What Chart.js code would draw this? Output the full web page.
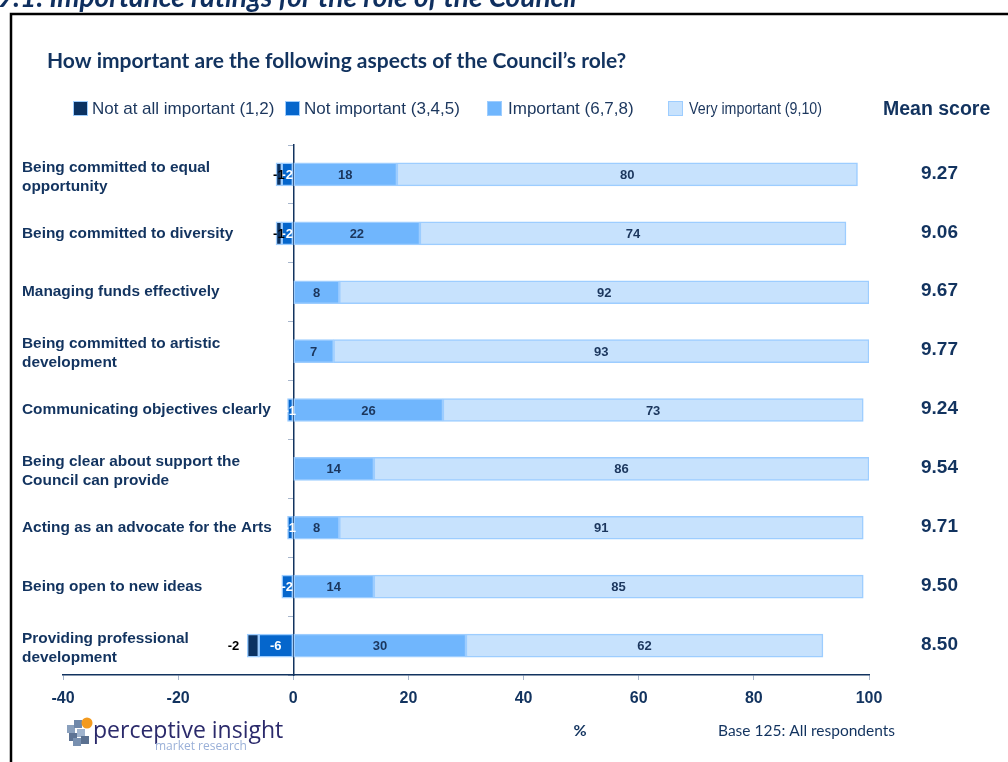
<!DOCTYPE html>
<html>
<head>
<meta charset="utf-8">
<title>Importance ratings for the role of the Council</title>
<script src="https://cdn.jsdelivr.net/npm/chart.js@4.4.1/dist/chart.umd.min.js"></script>
<style>
  html, body { margin: 0; padding: 0; background: #fff; }
  body { width: 1008px; height: 762px; overflow: hidden; position: relative; }
  #chart { position: absolute; left: 0; top: 0; }
</style>
</head>
<body>
<canvas id="chart" width="1008" height="762"></canvas>
<script>
// rows, top to bottom
const categories = [
    ['Being committed to equal', 'opportunity'],
    'Being committed to diversity',
    'Managing funds effectively',
    ['Being committed to artistic', 'development'],
    'Communicating objectives clearly',
    ['Being clear about support the', 'Council can provide'],
    'Acting as an advocate for the Arts',
    'Being open to new ideas',
    ['Providing professional', 'development']
];

// % of respondents, negatives drawn left of zero
const notAtAll      = [-1, -1, 0, 0, 0, 0, 0, 0, -2];
const notImportant  = [-2, -2, 0, 0, -1, 0, -1, -2, -6];
const important     = [18, 22, 8, 7, 26, 14, 8, 14, 30];
const veryImportant = [80, 74, 92, 93, 73, 86, 91, 85, 62];

const meanScores = ['9.27', '9.06', '9.67', '9.77', '9.24', '9.54', '9.71', '9.50', '8.50'];
const xTicks = [-40, -20, 0, 20, 40, 60, 80, 100];

const NAVY = '#12335f';
const EDGE = '#9dcdff';

// custom text, legend and value labels
const decor = {
    id: 'decor',
    beforeDraw(chart) {
        const ctx = chart.ctx;
        ctx.save();
        // page frame
        ctx.strokeStyle = '#000';
        ctx.lineWidth = 2.5;
        ctx.strokeRect(11, 14, 1100, 900);

        // caption, partly above the page
        ctx.fillStyle = '#0f2f5f';
        ctx.font = 'italic bold 28px Lato';
        ctx.textBaseline = 'alphabetic';
        ctx.fillText('9.1: Importance ratings for the role of the Council', -3, 7);

        // title
        ctx.fillStyle = NAVY;
        ctx.font = 'bold 21px Lato';
        ctx.textBaseline = 'middle';
        ctx.fillText('How important are the following aspects of the Council\u2019s role?', 47, 61);

        // legend (last entry is squeezed to fit)
        const order = [1, 0, 2, 3];
        const boxX = [73, 285, 487, 668];
        const maxW = [undefined, undefined, undefined, 133];
        ctx.font = '17px Arial';
        order.forEach((di, k) => {
            const ds = chart.data.datasets[di];
            ctx.fillStyle = ds.backgroundColor;
            ctx.fillRect(boxX[k], 101, 15, 15);
            ctx.strokeStyle = EDGE;
            ctx.lineWidth = 1;
            ctx.strokeRect(boxX[k] + 0.5, 101.5, 14, 14);
            ctx.fillStyle = '#1b365d';
            const tx = boxX[k] + (k >= 2 ? 21 : 19);
            if (maxW[k]) ctx.fillText(ds.label, tx, 109, maxW[k]);
            else ctx.fillText(ds.label, tx, 109);
        });
        ctx.fillStyle = NAVY;
        ctx.font = 'bold 19.5px Arial';
        ctx.fillText('Mean score', 883, 110);

        // footer
        ctx.font = 'bold 16px Lato';
        ctx.textAlign = 'center';
        ctx.fillText('%', 580, 731);
        ctx.textAlign = 'left';
        ctx.font = '15.5px Lato';
        ctx.fillText('Base 125: All respondents', 718, 731);

        // logo
        const cube = [[67, 725, '#8aa0bd'], [74, 720, '#6f88aa'], [69, 733, '#5d7394'], [77, 729, '#9fb3cd'], [73, 738, '#7890b0'], [81, 736, '#5a7090']];
        cube.forEach(([x, y, c]) => { ctx.fillStyle = c; ctx.fillRect(x, y, 8, 8); });
        ctx.fillStyle = '#f39a1e';
        ctx.beginPath();
        ctx.arc(87, 723, 5.5, 0, Math.PI * 2);
        ctx.fill();
        ctx.fillStyle = '#2b2a6b';
        ctx.font = '23px "Open Sans"';
        ctx.textBaseline = 'alphabetic';
        ctx.fillText('perceptive insight', 93, 738);
        ctx.fillStyle = '#9ab0d8';
        ctx.font = '12px "Open Sans"';
        ctx.fillText('market research', 155, 750);
        ctx.restore();
    },
    afterDatasetsDraw(chart) {
        const ctx = chart.ctx;
        const yScale = chart.scales.y;
        ctx.save();
        ctx.textBaseline = 'middle';

        // value labels
        ctx.font = 'bold 13px Arial';
        chart.data.datasets.forEach((ds, di) => {
            chart.getDatasetMeta(di).data.forEach((bar, i) => {
                const v = ds.data[i];
                if (!v) return;
                const left = Math.min(bar.x, bar.base);
                const right = Math.max(bar.x, bar.base);
                ctx.fillStyle = ds.labelColor;
                if (ds.labelOutside && Math.abs(v) >= 2) {
                    ctx.textAlign = 'right';
                    ctx.fillText(String(v), left - 8, bar.y + 1);
                } else {
                    ctx.textAlign = 'center';
                    ctx.fillText(String(v), (left + right) / 2, bar.y + 1);
                }
            });
        });

        // category labels and mean scores
        ctx.textAlign = 'left';
        chart.data.labels.forEach((lab, i) => {
            const y = yScale.getPixelForValue(i);
            ctx.fillStyle = NAVY;
            ctx.font = 'bold 15.4px Arial';
            if (Array.isArray(lab)) {
                ctx.fillText(lab[0], 22, y - 7);
                ctx.fillText(lab[1], 22, y + 12);
            } else {
                ctx.fillText(lab, 22, y);
            }
            ctx.font = 'bold 19px Arial';
            ctx.fillText(meanScores[i], 921, y - 1);
        });
        ctx.restore();
    }
};

const barStyle = { borderColor: EDGE, borderWidth: 1.5, borderSkipped: false, barThickness: 23 };

new Chart(document.getElementById('chart'), {
    type: 'bar',
    data: {
        labels: categories,
        datasets: [
            // not important first so it sits next to zero on the negative side
            { label: 'Not important (3,4,5)', data: notImportant, backgroundColor: '#0566cc', labelColor: '#fff', ...barStyle },
            { label: 'Not at all important (1,2)', data: notAtAll, backgroundColor: '#0b3262', labelColor: '#000', labelOutside: true, ...barStyle },
            { label: 'Important (6,7,8)', data: important, backgroundColor: '#70b6fd', labelColor: '#1b365d', ...barStyle },
            { label: 'Very important (9,10)', data: veryImportant, backgroundColor: '#c7e2fd', labelColor: '#1b365d', ...barStyle }
        ]
    },
    options: {
        indexAxis: 'y',
        responsive: false,
        animation: false,
        layout: { padding: { left: 63, right: 139, top: 145, bottom: 0 } },
        plugins: { legend: { display: false }, tooltip: { enabled: false } },
        scales: {
            x: {
                stacked: true,
                min: -40,
                max: 100,
                afterBuildTicks: s => { s.ticks = xTicks.map(v => ({ value: v })); },
                afterFit: s => { s.height = 87; },
                grid: { drawOnChartArea: false, tickLength: 5, color: '#a7b6cc' },
                border: { color: NAVY, width: 1.5 },
                ticks: { color: NAVY, padding: 9, font: { family: 'Arial', size: 16, weight: 'bold' } }
            },
            y: {
                stacked: true,
                position: { x: 0 },
                grid: { drawOnChartArea: false, tickLength: 5, color: '#a7b6cc' },
                border: { color: NAVY, width: 1.5 },
                ticks: { display: false }
            }
        }
    },
    plugins: [decor]
});
</script>
</body>
</html>
